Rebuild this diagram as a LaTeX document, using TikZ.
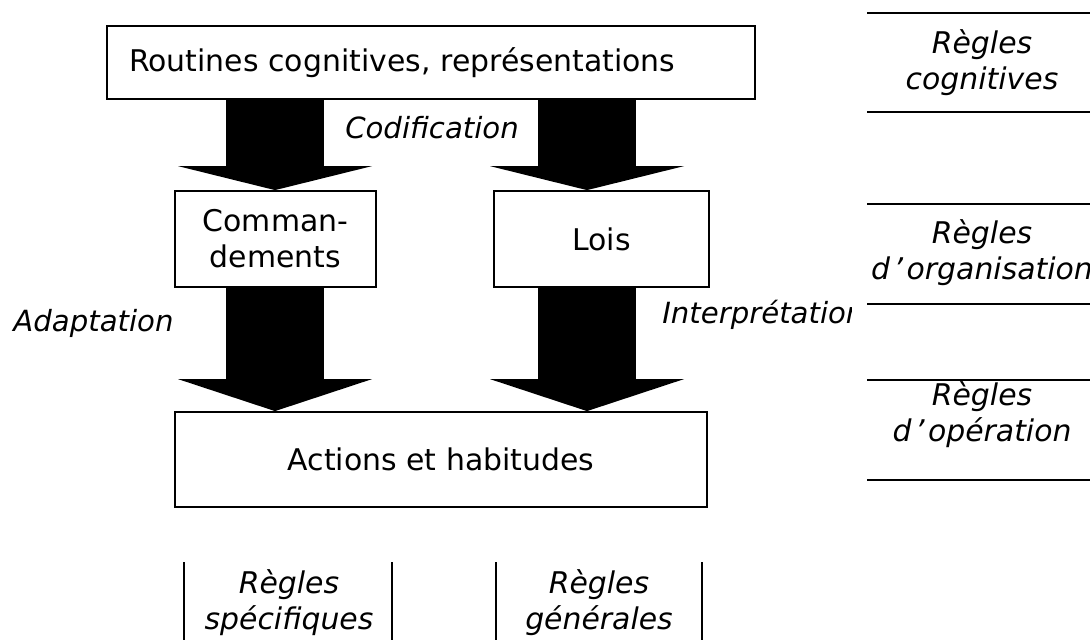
\documentclass[tikz,border=0pt]{standalone}
\usepackage{fontspec}
\setmainfont{DejaVu Sans}
\usetikzlibrary{arrows.meta}
\newcommand{\mainsize}{\fontsize{17}{20.5}\selectfont}
\newcommand{\lblsize}{\fontsize{16.6}{20.5}\selectfont}
\newcommand{\apos}{\kern2pt’\kern2pt}
\begin{document}
\begin{tikzpicture}[
	box/.style={draw, line width=1pt, font=\mainsize},
	bigarrow/.style={line width=1.96cm},
	shorthead/.style={bigarrow, -{Triangle[line width=0pt, length=0.48cm, width=3.88cm]}},
	longhead/.style={bigarrow, -{Triangle[line width=0pt, length=0.64cm, width=3.88cm]}},
	rule/.style={line width=1.2pt},
	lbl/.style={font=\lblsize\itshape},
	side/.style={font=\mainsize\itshape, align=center, inner sep=0pt}
]
		\useasboundingbox (0,0) rectangle (21.8,12.8);

		% boxes
		\node[box, minimum width=12.96cm, minimum height=1.46cm, text width=12.08cm, inner xsep=0.44cm, align=left] (routines) at (8.62,11.55) {Routines cognitives, représentations};
		\node[box, minimum width=4.02cm, minimum height=1.92cm, align=center] (cmd) at (5.51,8.02) {Comman-\\dements};
		\node[box, minimum width=4.30cm, minimum height=1.92cm] (lois) at (12.03,8.02) {Lois};
		\node[box, minimum width=10.64cm, minimum height=1.90cm] (actions) at (8.82,3.61) {Actions et habitudes};

		% block arrows
		\coordinate (lx) at (5.50,0);
		\coordinate (rx) at (11.74,0);
		\draw[shorthead] (routines.south -| lx) -- (cmd.north -| lx);
		\draw[shorthead] (routines.south -| rx) -- (lois.north -| rx);
		\draw[longhead] (cmd.south -| lx) -- (actions.north -| lx);
		\draw[longhead] (lois.south -| rx) -- (actions.north -| rx);

		\node[lbl] (codif) at (8.64,10.24) {Codification};
		\node[lbl] (adapt) at (1.87,6.34) {Adaptation};
		\begin{scope}
			\clip (13,5.5) rectangle (17.02,7.5);
			\node[lbl, anchor=west, inner sep=0pt] (interp) at (13.24,6.50) {Interprétation};
		\end{scope}

		% rules on the right
		\foreach \y in {12.54,10.56,8.72,6.72,5.20,3.20}
			\draw[rule] (17.34,\y) -- (21.8,\y);
		\node[side] (cogn) at (19.64,11.54) {Règles\\cognitives};
		\node[side] (orga) at (19.64,7.75) {Règles\\d\apos organisation};
		\node[side] (oper) at (19.64,4.50) {Règles\\d\apos opération};

		% rules at the bottom
		\foreach \x in {3.68,7.84,9.92,14.04}
			\draw[rule] (\x,0) -- (\x,1.56);
		\node[side] (spec) at (5.78,0.74) {Règles\\spécifiques};
		\node[side] (gen) at (11.98,0.74) {Règles\\générales};
\end{tikzpicture}
\end{document}
